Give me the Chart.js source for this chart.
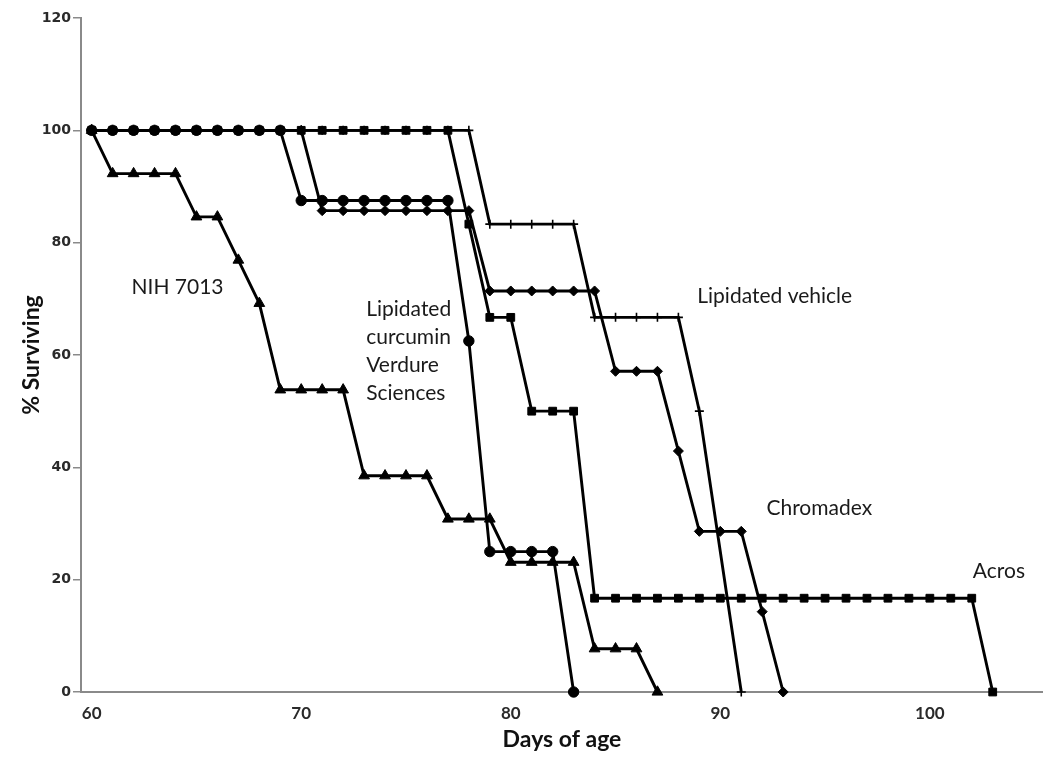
<!DOCTYPE html>
<html>
<head>
<meta charset="utf-8">
<script src="https://cdn.jsdelivr.net/npm/chart.js@4/dist/chart.umd.min.js"></script>
<style>
  html, body { margin: 0; padding: 0; background: #fff; }
  #wrap { width: 1043px; height: 758px; }
</style>
</head>
<body>
<div id="wrap"><canvas id="myChart" width="1043" height="758"></canvas></div>
<script>
// survival data (day of age -> % surviving)
const nihDays = [60,61,62,63,64,65,66,67,68,69,70,71,72,73,74,75,76,77,78,79,80,81,82,83,84,85,86,87];
const nihPct = [100,92.3,92.3,92.3,92.3,84.6,84.6,76.9,69.2,53.8,53.8,53.8,53.8,38.5,38.5,38.5,38.5,30.8,30.8,30.8,23.1,23.1,23.1,23.1,7.7,7.7,7.7,0];

const curcuminDays = [60,61,62,63,64,65,66,67,68,69,70,71,72,73,74,75,76,77,78,79,80,81,82,83];
const curcuminPct = [100,100,100,100,100,100,100,100,100,100,87.5,87.5,87.5,87.5,87.5,87.5,87.5,87.5,62.5,25,25,25,25,0];

const chromadexDays = [60,61,62,63,64,65,66,67,68,69,70,71,72,73,74,75,76,77,78,79,80,81,82,83,84,85,86,87,88,89,90,91,92,93];
const chromadexPct = [100,100,100,100,100,100,100,100,100,100,100,85.7,85.7,85.7,85.7,85.7,85.7,85.7,85.7,71.4,71.4,71.4,71.4,71.4,71.4,57.1,57.1,57.1,42.9,28.6,28.6,28.6,14.3,0];

const acrosDays = [60,61,62,63,64,65,66,67,68,69,70,71,72,73,74,75,76,77,78,79,80,81,82,83,84,85,86,87,88,89,90,91,92,93,94,95,96,97,98,99,100,101,102,103];
const acrosPct = [100,100,100,100,100,100,100,100,100,100,100,100,100,100,100,100,100,100,83.3,66.7,66.7,50,50,50,16.7,16.7,16.7,16.7,16.7,16.7,16.7,16.7,16.7,16.7,16.7,16.7,16.7,16.7,16.7,16.7,16.7,16.7,16.7,0];

const vehicleDays = [60,61,62,63,64,65,66,67,68,69,70,71,72,73,74,75,76,77,78,79,80,81,82,83,84,85,86,87,88,89,91];
const vehiclePct = [100,100,100,100,100,100,100,100,100,100,100,100,100,100,100,100,100,100,100,83.3,83.3,83.3,83.3,83.3,66.7,66.7,66.7,66.7,66.7,50,0];

const xTicks = [60, 70, 80, 90, 100];

// series labels placed in data coordinates
const seriesLabels = [
    { text: ["NIH 7013"], day: 61.9, pct: 72.1 },
    { text: ["Lipidated", "curcumin", "Verdure", "Sciences"], day: 73.1, pct: 68.1 },
    { text: ["Lipidated vehicle"], day: 88.9, pct: 70.5 },
    { text: ["Chromadex"], day: 92.2, pct: 32.8 },
    { text: ["Acros"], day: 102.05, pct: 21.5 },
];

const toPoints = (days, pct) => days.map((d, i) => ({ x: d, y: pct[i] }));

const series = function (data, style, radius, bw) {
    return {
        data: data,
        showLine: true,
        tension: 0,
        borderColor: "#000",
        borderWidth: 2.9,
        pointStyle: style,
        pointRadius: radius,
        pointHoverRadius: radius,
        pointBackgroundColor: "#000",
        pointBorderColor: "#000",
        pointBorderWidth: bw,
        clip: false,
    };
};

const labelPlugin = {
    id: "seriesLabels",
    afterDatasetsDraw(chart) {
        const ctx = chart.ctx;
        const xs = chart.scales.x;
        const ys = chart.scales.y;
        ctx.save();
        ctx.font = "21px Lato, 'Open Sans', sans-serif";
        ctx.fillStyle = "#1a1a1a";
        ctx.textAlign = "left";
        ctx.textBaseline = "middle";
        seriesLabels.forEach(l => {
            const x = xs.getPixelForValue(l.day);
            const y = ys.getPixelForValue(l.pct);
            l.text.forEach((t, i) => ctx.fillText(t, x, y + i * 28));
        });
        ctx.restore();
    },
};

const chart = new Chart(document.getElementById("myChart"), {
    type: "scatter",
    data: {
        datasets: [
            series(toPoints(vehicleDays, vehiclePct), "cross", 4.5, 1.6),
            series(toPoints(acrosDays, acrosPct), "rect", 5.5, 1),
            series(toPoints(chromadexDays, chromadexPct), "rectRot", 5, 1),
            series(toPoints(curcuminDays, curcuminPct), "circle", 5.2, 1),
            series(toPoints(nihDays, nihPct), "triangle", 6.2, 1),
        ],
    },
    options: {
        responsive: false,
        animation: false,
        layout: { autoPadding: false, padding: { top: 18, left: 0, right: 0, bottom: 0 } },
        plugins: {
            legend: { display: false },
            tooltip: { enabled: false },
        },
        scales: {
            x: {
                type: "linear",
                min: 59.49,
                max: 105.4,
                afterBuildTicks: (scale) => { scale.ticks = xTicks.map(v => ({ value: v })); },
                afterFit: (scale) => { scale.height = 66; },
                grid: { display: false },
                border: { display: true, color: "#8a8a8a", width: 2 },
                ticks: {
                    color: "#2a2a2a",
                    padding: 3,
                    maxRotation: 0,
                    font: { family: "Lato, sans-serif", size: 17, weight: "bold" },
                },
                title: {
                    display: true,
                    text: "Days of age",
                    color: "#111",
                    padding: { top: 0, bottom: 5 },
                    font: { family: "Lato, sans-serif", size: 23, weight: "bold" },
                },
            },
            y: {
                min: 0,
                max: 120,
                afterFit: (scale) => { scale.width = 81; },
                grid: { drawOnChartArea: false, drawTicks: true, tickLength: 8, color: "#8a8a8a", lineWidth: 1.5 },
                border: { display: true, color: "#8a8a8a", width: 2 },
                ticks: {
                    stepSize: 20,
                    color: "#2a2a2a",
                    padding: 2,
                    font: { family: "'DejaVu Sans', sans-serif", size: 14, weight: "bold" },
                },
                title: {
                    display: true,
                    text: "% Surviving",
                    color: "#111",
                    padding: { top: 18, bottom: 0 },
                    font: { family: "Lato, sans-serif", size: 23, weight: "bold" },
                },
            },
        },
    },
    plugins: [labelPlugin],
});
</script>
</body>
</html>
